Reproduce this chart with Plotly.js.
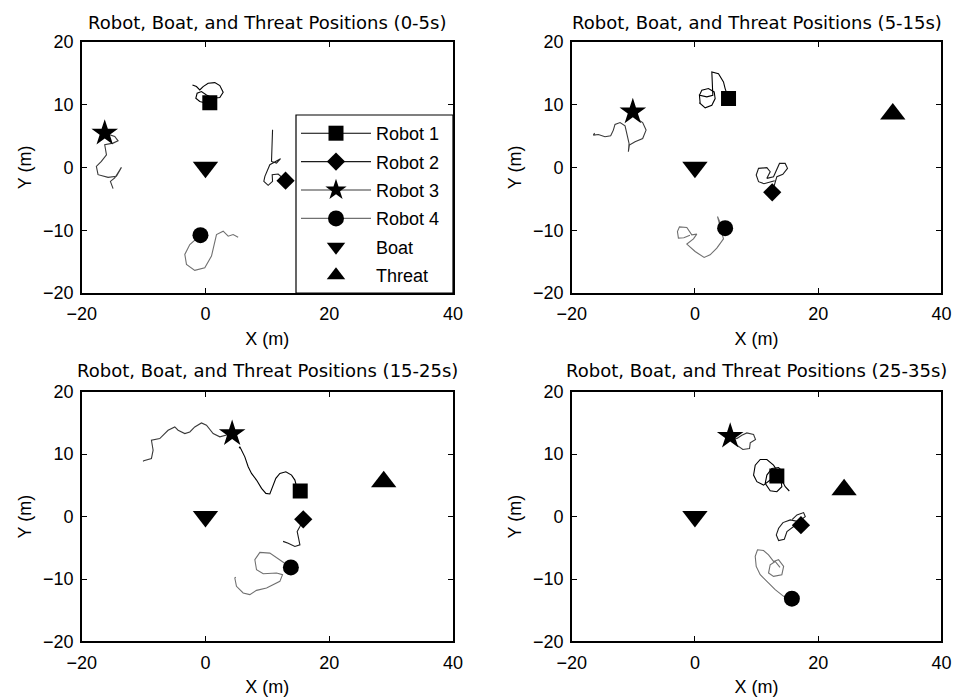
<!DOCTYPE html>
<html>
<head>
<meta charset="utf-8">
<script src="https://cdn.plot.ly/plotly-3.0.1.min.js"></script>
<style>html,body{margin:0;padding:0;background:#fff;}#chart{width:960px;height:700px;}</style>
</head>
<body>
<div id="chart"></div>
<script>
// Panel titles (time windows)
const panelTitles = [
  "Robot, Boat, and Threat Positions (0-5s)",
  "Robot, Boat, and Threat Positions (5-15s)",
  "Robot, Boat, and Threat Positions (15-25s)",
  "Robot, Boat, and Threat Positions (25-35s)"
];
const seriesNames = ["Robot 1", "Robot 2", "Robot 3", "Robot 4", "Boat", "Threat"];
const xTicks = [-20, 0, 20, 40];
const yTicks = [-20, -10, 0, 10, 20];

// Trajectories per robot, one list per panel (last point = current position)
const robot1X = [
  [-2.1,-1.46,-0.92,-0.38,0.43,1.51,2.32,2.86,2.32,1.24,0.16,-0.65,-1.35,-1.56,-0.92,0.16,0.7],
  [0.7,0.85,0.73,1.11,2.19,3.12,3.28,2.74,1.66,0.85,0.73,1.93,2.9,2.79,2.74,3.82,4.63,4.9,5.45],
  [5.45,5.55,6.36,6.9,7.44,8.25,9.06,9.76,10.4,10.83,11.37,12.02,12.99,13.91,14.45,14.72,15.31],
  [15.31,14.65,14.1,14.27,13.56,12.48,11.67,11.4,12.21,13.29,14.1,13.83,12.75,11.67,10.59,9.78,9.51,10.05,11.13,12.21,13.29]
];
const robot1Y = [
  [13.1,12.86,12.33,12.86,13.39,13.49,13.02,11.96,11.11,11.01,11.53,12.06,11.8,11.0,10.48,10.2,10.3],
  [10.3,10.16,11.48,12.28,12.54,12.01,10.95,9.89,9.47,10.16,11.48,11.22,11.48,13.07,15.19,14.92,13.6,12.54,10.95],
  [10.95,11.17,9.57,7.98,6.91,5.85,4.52,3.72,3.62,4.79,6.12,6.91,7.18,6.65,5.85,4.79,4.1],
  [4.1,4.79,5.85,7.18,7.87,7.71,6.65,5.32,4.15,3.99,4.79,6.65,8.24,9.15,9.15,8.24,6.65,5.59,5.05,5.85,6.49]
];
const robot2X = [
  [10.84,10.78,10.73,10.67,11.48,12.13,10.4,9.6,9.43,10.13,10.84,10.78,11.75,12.94],
  [12.94,11.2,10.32,9.94,10.32,11.67,12.21,11.67,12.75,13.29,13.72,14.64,15.02,14.26,13.29,12.54],
  [12.54,13.37,14.45,15.26,14.99,14.82,15.26,15.8],
  [15.8,16.55,17.63,17.9,16.82,15.47,14.28,13.58,13.2,13.58,14.5,14.93,16.01,17.2]
];
const robot2Y = [
  [5.98,4.13,2.01,0.95,0.69,1.38,0.42,-1.43,-2.22,-2.86,-2.22,-1.16,-1.06,-2.12],
  [-2.12,-2.6,-2.28,-1.22,-0.16,-0.05,-0.69,-1.75,-1.48,-0.42,0.63,0.63,-0.16,-1.11,-1.48,-3.97],
  [-3.97,-4.26,-4.79,-4.52,-3.19,-2.39,-1.6,-0.43],
  [-0.43,0.27,0.64,0,-0.8,-0.53,-0.96,-1.86,-2.93,-3.83,-3.62,-2.39,-1.6,-1.38]
];
const robot3X = [
  [-14.93,-15.36,-14.66,-13.58,-14.39,-15.74,-17.36,-17.63,-16.82,-16.0,-16.28,-14.93,-14.12,-14.66,-16.28],
  [-16.28,-16.48,-15.67,-14.59,-13.67,-13.24,-12.97,-12.15,-11.34,-11.07,-10.69,-10.8,-10.64,-9.72,-8.48,-7.93,-8.48,-9.34,-10.08],
  [-10.08,-9.97,-8.73,-8.46,-8.73,-7.39,-6.04,-4.96,-4.42,-3.34,-2.53,-1.73,-0.65,0.16,1.24,2.32,4.31],
  [4.31,5.18,6.8,7.61,8.42,9.51,9.83,8.97,8.86,7.77,6.8,6.26,5.72]
];
const robot3Y = [
  [-3.39,-2.22,-1.69,0,-1.43,-1.59,-1.16,0.16,0.95,2.0,3.6,3.86,4.23,4.92,5.45],
  [5.45,5.13,5.24,4.87,5.03,5.93,6.83,7.14,6.61,5.4,3.81,2.49,3.54,4.07,4.6,5.93,7.14,7.67,8.84],
  [8.84,8.94,9.31,10.64,12.23,12.5,13.83,14.36,13.83,13.3,13.56,14.36,15.0,14.63,13.3,12.77,13.3],
  [13.3,13.03,12.5,13.03,13.4,13.14,12.34,11.81,10.9,10.74,11.44,12.23,12.87]
];
const robot4X = [
  [5.28,4.47,3.67,2.86,1.78,1.35,0.97,-0.11,-1.73,-3.07,-3.34,-2.53,-1.46,-0.81],
  [-0.81,-1.8,-2.68,-2.84,-2.51,-1.32,-0.51,0.3,-0.24,-1.32,0.03,1.49,2.46,3.55,4.63,4.09,3.66,4.0,4.9],
  [4.9,4.74,5.01,6.09,7.17,8.25,9.87,12.02,12.45,11.48,9.33,8.25,7.98,8.79,10.4,12.02,12.83,13.8],
  [13.8,13.02,12.21,11.94,12.75,14.1,14.39,13.56,12.75,11.94,11.13,10.15,9.78,9.94,10.59,11.4,11.94,13.02,14.39,15.73]
];
const robot4Y = [
  [-11.11,-10.69,-10.95,-10.16,-10.69,-12.28,-14.13,-15.98,-16.4,-15.45,-13.86,-12.28,-11.32,-10.79],
  [-10.79,-11.2,-11.27,-10.21,-9.47,-9.58,-10.74,-10.63,-11.38,-12.22,-13.39,-14.34,-13.92,-12.86,-11.38,-9.15,-7.83,-8.62,-9.68],
  [-9.68,-9.84,-11.17,-12.23,-12.5,-11.81,-11.44,-10.37,-9.31,-9.04,-9.15,-8.51,-6.91,-5.74,-5.85,-6.91,-7.55,-8.14],
  [-8.14,-7.18,-7.71,-9.04,-9.57,-9.31,-7.98,-6.91,-7.18,-6.12,-5.43,-5.32,-6.38,-7.98,-9.31,-10.11,-10.64,-11.7,-12.77,-13.14]
];
const boatX = [0, 0, 0, 0];
const boatY = [0, 0, 0, 0];
const threatX = [null, 32.1, 28.8, 24.2];
const threatY = [null, 8.5, 5.6, 4.3];

// ---- styling ----
const robotX = [robot1X, robot2X, robot3X, robot4X];
const robotY = [robot1Y, robot2Y, robot3Y, robot4Y];
const robotLineColors = ["#000000", "#1c1c1c", "#3a3a3a", "#707070"];
const robotSymbols = ["square", "diamond", "star", "circle"];
const robotSizes = [15, 14, 20, 16];
const FONT = "Liberation Sans, Arial, sans-serif";

const traces = [];
for (let p = 0; p < 4; p++) {
  const xa = p === 0 ? "x" : "x" + (p + 1);
  const ya = p === 0 ? "y" : "y" + (p + 1);
  for (let r = 0; r < 4; r++) {
    traces.push({
      type: "scatter", mode: "lines", x: robotX[r][p], y: robotY[r][p],
      xaxis: xa, yaxis: ya, showlegend: false, hoverinfo: "skip",
      line: { color: robotLineColors[r], width: 1.1 }
    });
  }
  for (let r = 0; r < 4; r++) {
    const n = robotX[r][p].length;
    traces.push({
      type: "scatter", mode: "lines+markers", name: seriesNames[r],
      x: [robotX[r][p][n - 1]], y: [robotY[r][p][n - 1]],
      xaxis: xa, yaxis: ya, showlegend: p === 0, legendgroup: "g" + r,
      line: { color: robotLineColors[r], width: 1.1 },
      marker: { symbol: robotSymbols[r], size: robotSizes[r], color: "#000" }
    });
  }
  traces.push({
    type: "scatter", mode: "markers", name: seriesNames[4],
    x: [boatX[p]], y: [boatY[p]], xaxis: xa, yaxis: ya,
    showlegend: p === 0, legendgroup: "g4",
    marker: { symbol: "triangle-down", size: 22, color: "#000" }
  });
  traces.push({
    type: "scatter", mode: "markers", name: seriesNames[5],
    x: [threatX[p]], y: [threatY[p]], xaxis: xa, yaxis: ya,
    showlegend: p === 0, legendgroup: "g5",
    marker: { symbol: "triangle-up", size: 22, color: "#000" }
  });
}

const xDomains = [[0.0851, 0.4719], [0.5955, 0.9807], [0.0851, 0.4719], [0.5955, 0.9807]];
const yDomains = [[0.5814, 0.9404], [0.5814, 0.9404], [0.0836, 0.4404], [0.0836, 0.4404]];

function xAxis(p) {
  return {
    domain: xDomains[p], range: [-20, 40], tickvals: xTicks, anchor: p === 0 ? "y" : "y" + (p + 1),
    showgrid: false, zeroline: false, showline: true, linecolor: "#000", linewidth: 1.5,
    mirror: "ticks", ticks: "inside", ticklen: 5, tickwidth: 1, tickcolor: "#000",
    tickfont: { family: FONT, size: 18, color: "#000" }, ticklabelstandoff: 4,
    title: { text: "X (m)", font: { family: FONT, size: 18, color: "#000" }, standoff: 9 }
  };
}
function yAxis(p) {
  return {
    domain: yDomains[p], range: [-20, 20], tickvals: yTicks, anchor: p === 0 ? "x" : "x" + (p + 1),
    showgrid: false, zeroline: false, showline: true, linecolor: "#000", linewidth: 1.5,
    mirror: "ticks", ticks: "inside", ticklen: 5, tickwidth: 1, tickcolor: "#000",
    tickfont: { family: FONT, size: 18, color: "#000" }, ticklabelstandoff: 3,
    title: { text: "Y (m)", font: { family: FONT, size: 18, color: "#000" }, standoff: 6 }
  };
}

const annotations = panelTitles.map((t, p) => ({
  text: t, xref: "paper", yref: "paper",
  x: (xDomains[p][0] + xDomains[p][1]) / 2, y: p < 2 ? 1 - 22 / 700 : 1 - 370 / 700,
  xanchor: "center", yanchor: "middle", showarrow: false,
  font: { family: "DejaVu Sans, sans-serif", size: 18, color: "#000" }
}));

// legend frame (white box with border, legend drawn transparently on top)
const legendBox = {
  type: "rect", xref: "paper", yref: "paper", layer: "above",
  x0: 296 / 960, x1: 453 / 960, y0: 1 - 293 / 700, y1: 1 - 115 / 700,
  fillcolor: "#fff", line: { color: "#000", width: 1.2 }
};

const layout = {
  width: 960, height: 700, margin: { l: 0, r: 0, t: 0, b: 0 },
  paper_bgcolor: "#fff", plot_bgcolor: "#fff",
  font: { family: FONT, color: "#000" },
  xaxis: xAxis(0), yaxis: yAxis(0), xaxis2: xAxis(1), yaxis2: yAxis(1),
  xaxis3: xAxis(2), yaxis3: yAxis(2), xaxis4: xAxis(3), yaxis4: yAxis(3),
  annotations: annotations,
  shapes: [legendBox],
  showlegend: true,
  legend: {
    x: 296 / 960, y: 1 - 115 / 700, xanchor: "left", yanchor: "top",
    bgcolor: "rgba(0,0,0,0)", borderwidth: 0,
    font: { family: FONT, size: 18, color: "#000" },
    traceorder: "grouped", tracegroupgap: 2, itemwidth: 70
  }
};

Plotly.newPlot("chart", traces, layout, { staticPlot: true });
</script>
</body>
</html>
